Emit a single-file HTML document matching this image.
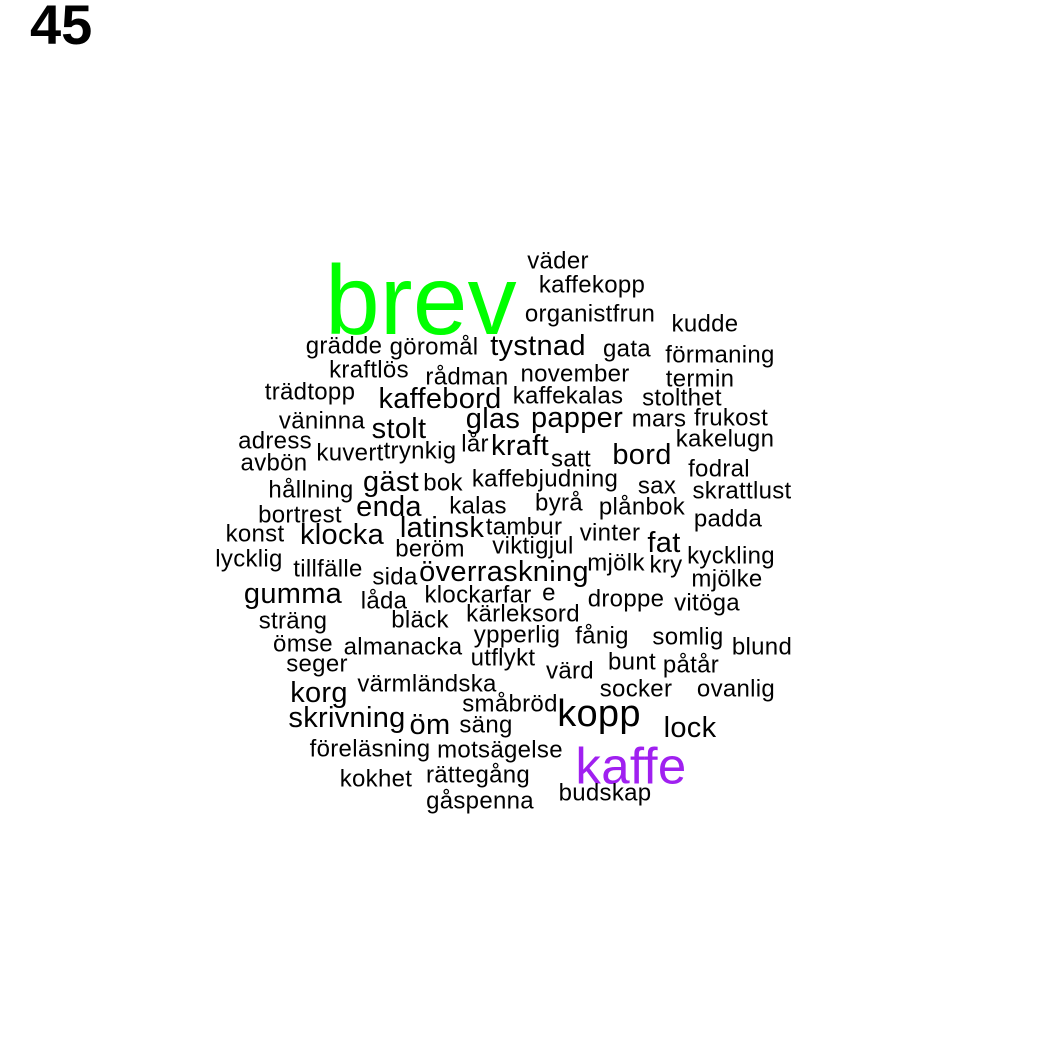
<!DOCTYPE html>
<html><head><meta charset="utf-8"><style>
html,body{margin:0;padding:0;background:#fff;}
svg{display:block;font-family:"Liberation Sans",Arial,sans-serif;}
</style></head><body>
<svg id="cloud" width="1050" height="1050" viewBox="0 0 1050 1050">
<rect width="1050" height="1050" fill="#fff"/>
<text x="30" y="44" font-size="56" font-weight="bold" fill="#000">45</text>
<g id="words"></g>
</svg>
<script>
const words = ["väder","kaffekopp","brev","organistfrun","kudde","grädde","göromål","tystnad","gata","förmaning","kraftlös","rådman","november","termin","trädtopp","kaffebord","kaffekalas","stolthet","väninna","glas","papper","mars","frukost","stolt","adress","lår","kraft","kakelugn","avbön","kuvert","trynkig","satt","bord","fodral","kaffebjudning","gäst","bok","sax","skrattlust","hållning","kalas","byrå","plånbok","bortrest","enda","padda","konst","klocka","latinsk","tambur","vinter","fat","beröm","viktigjul","kyckling","lycklig","tillfälle","sida","överraskning","mjölk","kry","mjölke","gumma","klockarfar","e","låda","droppe","vitöga","sträng","bläck","kärleksord","ömse","almanacka","ypperlig","fånig","somlig","blund","seger","utflykt","bunt","påtår","värd","värmländska","socker","ovanlig","korg","småbröd","kopp","skrivning","öm","säng","lock","föreläsning","motsägelse","kaffe","kokhet","rättegång","budskap","gåspenna"];
const freq = [1,1,5,1,1,1,1,2,1,1,1,1,1,1,1,2,1,1,1,2,2,1,1,2,1,1,2,1,1,1,1,1,2,1,1,2,1,1,1,1,1,1,1,1,2,1,1,2,2,1,1,2,1,1,1,1,1,1,2,1,1,1,2,1,1,1,1,1,1,1,1,1,1,1,1,1,1,1,1,1,1,1,1,1,1,2,1,3,2,2,1,2,1,1,4,1,1,1,1];
const posX = [558,592,421,590,705,344,434,538,627,720,369,467,575,700,310,440,568,682,322,493,577,659,731,399,275,475,520,725,274,350,420,571,642,719,545,391,443,657,742,311,478,559,642,300,389,728,255,342,442,524,610,664,430,533,731,249,328,395,504,616,666,727,293,478,549,384,626,707,293,420,523,303,403,517,602,688,762,317,503,632,691,570,427,636,736,319,510,599,347,430,486,690,370,500,631,376,478,605,480];
const posY = [261,285,300,314,324,346,347,346,349,355,370,377,374,379,392,399,396,398,421,419,418,419,418,429,441,444,446,439,463,453,451,459,455,469,479,482,483,486,491,490,506,503,507,515,507,519,534,535,528,527,533,543,549,546,556,559,569,577,572,563,565,579,594,595,593,601,599,603,621,620,614,644,647,635,636,637,647,664,658,662,665,671,684,689,689,693,704,714,718,725,725,728,749,750,766,779,775,793,801];
const sizeByFreq = {1:24,2:29,3:38,4:51,5:98};
const colorByFreq = {1:"#000",2:"#000",3:"#000",4:"#a020f0",5:"#00ff00"};
const g = document.getElementById("words");
for (let i = 0; i < words.length; i++) {
  const t = document.createElementNS("http://www.w3.org/2000/svg","text");
  t.setAttribute("x", posX[i]);
  t.setAttribute("y", posY[i]);
  t.setAttribute("text-anchor","middle");
  t.setAttribute("dominant-baseline","central");
  t.setAttribute("font-size", sizeByFreq[freq[i]]);
  t.setAttribute("letter-spacing", "0.3");
  t.setAttribute("fill", colorByFreq[freq[i]]);
  
  
  t.textContent = words[i];
  g.appendChild(t);
}
</script>
</body></html>
